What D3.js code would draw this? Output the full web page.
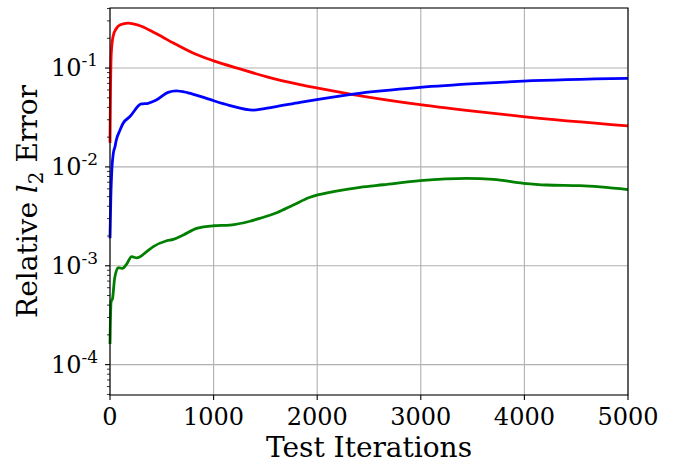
<!DOCTYPE html>
<html>
<head>
<meta charset="utf-8">
<script src="https://cdn.jsdelivr.net/npm/d3@7/dist/d3.min.js"></script>
<style>
  body { margin: 0; background: #fff; }
  text { font-family: "DejaVu Serif", serif; fill: #000; }
</style>
</head>
<body>
<div id="chart"></div>
<script>
// values
const redIter = [0, 5, 12, 30, 60, 100, 174, 290, 415, 510, 608, 801, 994, 1255, 1515, 1834, 1995, 2346, 2992, 3572, 3987, 5000]
const redVal = [0.0175, 0.06, 0.14, 0.21, 0.25, 0.274, 0.285, 0.268, 0.232, 0.205, 0.18, 0.142, 0.119, 0.098, 0.0815, 0.068, 0.063, 0.054, 0.0427, 0.036, 0.0323, 0.026]

const blueIter = [0, 8, 16, 32, 48, 61, 97, 125, 190, 302, 367, 447, 560, 640, 753, 946, 1150, 1383, 1576, 1834, 1995, 2346, 2992, 3572, 3987, 5000]
const blueVal = [0.0019, 0.005, 0.0086, 0.0137, 0.016, 0.0187, 0.0236, 0.0275, 0.0321, 0.0433, 0.044, 0.0474, 0.0568, 0.0589, 0.0562, 0.0487, 0.042, 0.0376, 0.0403, 0.045, 0.048, 0.0546, 0.0638, 0.070, 0.0738, 0.0787]

const greenIter = [0, 10, 25, 45, 80, 120, 161, 209, 258, 354, 418, 547, 611, 708, 837, 997, 1158, 1351, 1448, 1609, 1769, 1931, 2156, 2413, 2638, 2992, 3443, 3700, 3990, 4215, 4537, 5000]
const greenVal = [1.62e-4, 4.3e-4, 4.7e-4, 7.5e-4, 9.6e-4, 9.4e-4, 1.04e-3, 1.24e-3, 1.2e-3, 1.39e-3, 1.56e-3, 1.79e-3, 1.85e-3, 2.05e-3, 2.39e-3, 2.54e-3, 2.58e-3, 2.82e-3, 3.02e-3, 3.44e-3, 4.12e-3, 4.93e-3, 5.61e-3, 6.22e-3, 6.6e-3, 7.25e-3, 7.67e-3, 7.49e-3, 6.83e-3, 6.56e-3, 6.46e-3, 5.9e-3]

const xTicks = [0, 1000, 2000, 3000, 4000, 5000]
const yTicks = [1e-4, 1e-3, 1e-2, 1e-1]
const yTickExp = ["-4", "-3", "-2", "-1"]

const series = [
  {name: "red", color: "#ff0000", iter: redIter, val: redVal},
  {name: "blue", color: "#0000ff", iter: blueIter, val: blueVal},
  {name: "green", color: "#008000", iter: greenIter, val: greenVal}
]

const W = 673, H = 464
const margin = {top: 8, right: 45, bottom: 69, left: 110},
  width = W - margin.left - margin.right,
  height = H - margin.top - margin.bottom

const x = d3.scaleLinear().domain([0, 5000]).range([0, width])
const y = d3.scaleLog().domain([4.93e-5, 0.405]).range([height, 0])

const svg = d3.select("#chart").append("svg")
    .attr("width", W)
    .attr("height", H)
  .append("g")
    .attr("transform", "translate(" + margin.left + "," + margin.top + ")")

// grid
svg.append("g").selectAll("line.gx")
  .data(xTicks).enter().append("line")
    .attr("x1", d => x(d)).attr("x2", d => x(d))
    .attr("y1", 0).attr("y2", height)
    .style("stroke", "#b0b0b0").style("stroke-width", 1.1)

svg.append("g").selectAll("line.gy")
  .data(yTicks).enter().append("line")
    .attr("x1", 0).attr("x2", width)
    .attr("y1", d => y(d)).attr("y2", d => y(d))
    .style("stroke", "#b0b0b0").style("stroke-width", 1.1)

// lines
const line = d3.line()
  .x(d => x(d[0]))
  .y(d => y(d[1]))
  .curve(d3.curveMonotoneX)

series.forEach(s => {
  const pts = s.iter.map((it, i) => [it, s.val[i]])
  svg.append("path")
    .datum(pts)
    .attr("d", line)
    .style("fill", "none")
    .style("stroke", s.color)
    .style("stroke-width", 2.8)
    .style("stroke-linejoin", "round")
})

// frame
svg.append("rect")
  .attr("x", 0).attr("y", 0)
  .attr("width", width).attr("height", height)
  .style("fill", "none").style("stroke", "#000").style("stroke-width", 1.1)

// x axis ticks
const xa = svg.append("g").attr("transform", "translate(0," + height + ")")
xa.selectAll("line").data(xTicks).enter().append("line")
  .attr("x1", d => x(d)).attr("x2", d => x(d))
  .attr("y1", 0).attr("y2", 5)
  .style("stroke", "#000").style("stroke-width", 1.1)
xa.selectAll("text").data(xTicks).enter().append("text")
  .attr("x", d => x(d)).attr("y", 30)
  .attr("text-anchor", "middle")
  .style("font-size", "24px")
  .text(d => d)

// y axis ticks (major + minor)
const minor = []
for (let e = -5; e <= -1; e++) {
  for (let m = 2; m <= 9; m++) {
    const v = m * Math.pow(10, e)
    if (v >= y.domain()[0] && v <= y.domain()[1]) minor.push(v)
  }
}
const ya = svg.append("g")
ya.selectAll("line.minor").data(minor).enter().append("line")
  .attr("x1", -3).attr("x2", 0)
  .attr("y1", d => y(d)).attr("y2", d => y(d))
  .style("stroke", "#000").style("stroke-width", 0.8)
ya.selectAll("line.major").data(yTicks).enter().append("line")
  .attr("x1", -5).attr("x2", 0)
  .attr("y1", d => y(d)).attr("y2", d => y(d))
  .style("stroke", "#000").style("stroke-width", 1.1)

const yl = ya.selectAll("text").data(yTicks).enter().append("text")
  .attr("x", -12).attr("y", d => y(d) + 8)
  .attr("text-anchor", "end")
  .style("font-size", "24px")
yl.append("tspan").text("10")
yl.append("tspan")
  .attr("dy", -10)
  .style("font-size", "17px")
  .text((d, i) => yTickExp[i])

// axis labels
svg.append("text")
  .attr("x", width / 2).attr("y", height + 62)
  .attr("text-anchor", "middle")
  .style("font-size", "28px")
  .text("Test Iterations")

const ylab = svg.append("text")
  .attr("transform", "translate(" + (-73) + "," + (height / 2) + ") rotate(-90)")
  .attr("text-anchor", "middle")
  .style("font-size", "28px")
ylab.append("tspan").text("Relative ")
ylab.append("tspan").style("font-style", "italic").text("l")
ylab.append("tspan").attr("dy", 6).style("font-size", "20px").text("2")
ylab.append("tspan").attr("dy", -6).text(" Error")
</script>
</body>
</html>
